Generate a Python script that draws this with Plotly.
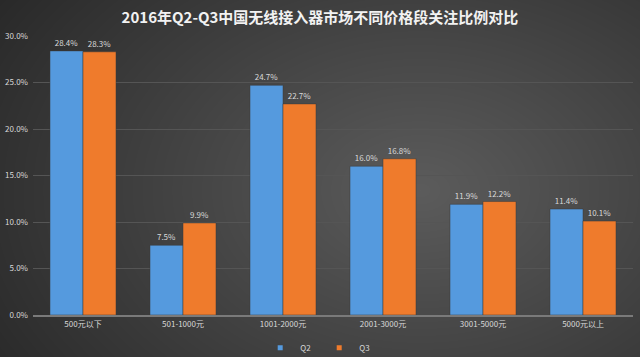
import base64, struct, zlib
import numpy as np
import plotly.graph_objects as go

categories = ["500元以下", "501-1000元", "1001-2000元", "2001-3000元", "3001-5000元", "5000元以上"]
q2_values = [28.4, 7.5, 24.7, 16.0, 11.9, 11.4]
q3_values = [28.3, 9.9, 22.7, 16.8, 12.2, 10.1]
y_ticks = [0, 5, 10, 15, 20, 25, 30]
y_tick_labels = ["0.0%", "5.0%", "10.0%", "15.0%", "20.0%", "25.0%", "30.0%"]

W, H = 640, 357
L, R, T, B = 33, 7, 36, 42

# radial gradient background as PNG
yy, xx = np.mgrid[0:H, 0:W]
cx, cy = 420, 190
d = np.sqrt(((xx - cx) / 430.0) ** 2 + ((yy - cy) / 300.0) ** 2)
v = 92 - 52 * np.clip(d, 0, 1.2) / 1.2
img = np.clip(v, 0, 255).astype(np.uint8)
rgb = np.stack([img, img, img], axis=-1)
raw = b"".join(b"\x00" + rgb[i].tobytes() for i in range(H))
def chunk(t, data):
    c = struct.pack(">I", len(data)) + t + data
    return c + struct.pack(">I", zlib.crc32(t + data) & 0xffffffff)
png = b"\x89PNG\r\n\x1a\n" + chunk(b"IHDR", struct.pack(">IIBBBBB", W, H, 8, 2, 0, 0, 0)) \
      + chunk(b"IDAT", zlib.compress(raw, 9)) + chunk(b"IEND", b"")
bg_uri = "data:image/png;base64," + base64.b64encode(png).decode()

pw, ph = W - L - R, H - T - B
font = "Noto Sans CJK SC, Microsoft YaHei, sans-serif"
colors = {"Q2": "#559ade", "Q3": "#ef7b2c"}

fig = go.Figure()
for name, vals in (("Q2", q2_values), ("Q3", q3_values)):
    fig.add_bar(name=name, x=categories, y=vals, marker_color=colors[name],
                marker_line=dict(color="#3a3a3a", width=0.5),
                text=[f"{v:.1f}%" for v in vals], textposition="outside",
                textfont=dict(size=8, color="#d9d9d9"), cliponaxis=False,
                showlegend=False)
for name in ("Q2", "Q3"):
    fig.add_scatter(name=name, x=[None], y=[None], mode="markers",
                    marker=dict(symbol="square", size=5, color=colors[name]),
                    showlegend=True)

fig.update_layout(
    width=W, height=H,
    margin=dict(l=L, r=R, t=T, b=B, autoexpand=False),
    paper_bgcolor="#444444", plot_bgcolor="rgba(0,0,0,0)",
    barmode="group", bargap=0.34, bargroupgap=0,
    font=dict(family=font, color="#d9d9d9", size=8),
    title=dict(text="<b>2016年Q2-Q3中国无线接入器市场不同价格段关注比例对比</b>",
               x=0.5, xanchor="center", y=0.95, yanchor="middle",
               font=dict(size=15, color="#f2f2f2", family=font)),
    legend=dict(orientation="h", x=0.477, xanchor="center", y=-0.065, yanchor="top",
                font=dict(size=8, color="#d9d9d9"), itemwidth=30,
                entrywidth=14, entrywidthmode="pixels",
                bgcolor="rgba(0,0,0,0)", tracegroupgap=0),
    showlegend=True,
    images=[dict(source=bg_uri, xref="paper", yref="paper",
                 x=-L / pw, y=1 + T / ph, sizex=W / pw, sizey=H / ph,
                 xanchor="left", yanchor="top", sizing="stretch", layer="below")],
)
fig.update_xaxes(showline=True, linecolor="#7a7a7a", linewidth=2, ticks="",
                 tickfont=dict(size=8, color="#d9d9d9"), showgrid=False, automargin=False)
fig.update_yaxes(range=[0, 30], tickvals=y_ticks, ticktext=y_tick_labels,
                 showgrid=True, gridcolor="#555555", gridwidth=1, zeroline=False,
                 tickfont=dict(size=8, color="#d9d9d9"), ticks="", ticklabelstandoff=4,
                 automargin=False)

fig.write_html("out.html", config={"displayModeBar": False},
               post_script="document.body.style.margin='0';document.body.style.overflow='hidden';")
